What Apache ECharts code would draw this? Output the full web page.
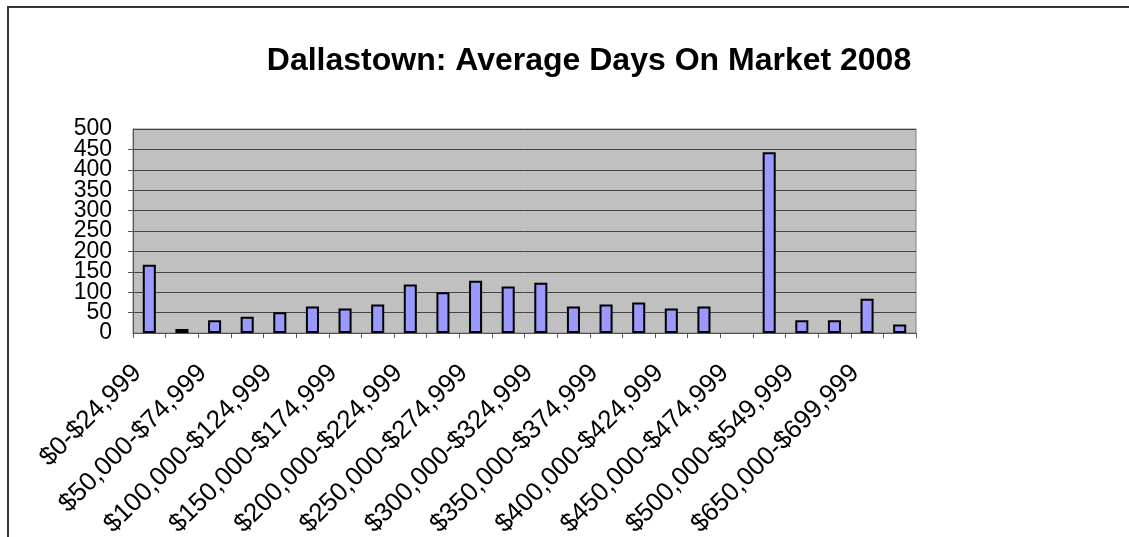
<!DOCTYPE html>
<html>
<head>
<meta charset="utf-8">
<script src="https://cdn.jsdelivr.net/npm/echarts@6/dist/echarts.min.js"></script>
<style>
  html, body { margin: 0; padding: 0; background: #fff; }
  #chart { width: 1129px; height: 537px; }
</style>
</head>
<body>
<div id="chart"></div>
<script>
// price bands (x axis)
var categories = [
  "$0-$24,999", "$25,000-$49,999", "$50,000-$74,999", "$75,000-$99,999",
  "$100,000-$124,999", "$125,000-$149,999", "$150,000-$174,999", "$175,000-$199,999",
  "$200,000-$224,999", "$225,000-$249,999", "$250,000-$274,999", "$275,000-$299,999",
  "$300,000-$324,999", "$325,000-$349,999", "$350,000-$374,999", "$375,000-$399,999",
  "$400,000-$424,999", "$425,000-$449,999", "$450,000-$474,999", "$475,000-$499,999",
  "$500,000-$549,999", "$600,000-$649,999", "$650,000-$699,999", "$700,000-$749,999"
];
// average days on market
var avgDays = [
  167, 10, 31, 40, 51, 65, 60, 70,
  119, 100, 128, 114, 123, 65, 70, 75,
  60, 65, null, 443, 31, 31, 84, 21
];
// y range
var yMin = 0;
var yMax = 500;
var yStep = 50;

var myChart = echarts.init(document.getElementById("chart"));
var font = "'Liberation Sans', Arial, sans-serif";

var yLabelStyle = {
  margin: 21,
  fontFamily: font,
  fontSize: 23,
  color: "#000"
};

var option = {
  animation: false,
  title: {
    text: "Dallastown: Average Days On Market 2008",
    left: 584,
    top: 40,
    textAlign: "center",
    textStyle: {
      fontFamily: font,
      fontWeight: "bold",
      fontSize: 32,
      color: "#000"
    }
  },
  // outer chart frame
  graphic: [
    {
      type: "rect",
      shape: { x: 8, y: 7, width: 1200, height: 600 },
      style: { fill: null, stroke: "#333", lineWidth: 2 },
      silent: true
    }
  ],
  grid: {
    left: 133,
    top: 129,
    right: 213,
    bottom: 204,
    outerBoundsMode: "none",
    show: true,
    backgroundColor: "#c0c0c0",
    borderColor: "#808080",
    borderWidth: 1
  },
  xAxis: {
    type: "category",
    data: categories,
    axisLine: { lineStyle: { color: "#555", width: 1 } },
    axisTick: { show: true, length: 5, interval: 0, lineStyle: { color: "#555" } },
    axisLabel: {
      interval: 1,
      rotate: 45,
      margin: 24,
      padding: [0, 17, 0, 0],
      fontFamily: font,
      fontSize: 26,
      color: "#000"
    }
  },
  yAxis: [
    {
      // main axis: ticks, grid lines and the inner labels
      type: "value",
      position: "left",
      min: yMin,
      max: yMax,
      interval: yStep,
      axisLine: { show: true, lineStyle: { color: "#555" } },
      axisTick: { show: true, length: 5, lineStyle: { color: "#555" } },
      splitLine: { lineStyle: { color: "#444", width: 1 } },
      axisLabel: Object.assign({ showMinLabel: false, showMaxLabel: false }, yLabelStyle)
    },
    {
      // same scale, only carries the 0 and 500 labels
      type: "value",
      position: "left",
      offset: 0,
      min: yMin,
      max: yMax,
      interval: yMax - yMin,
      axisLine: { show: false },
      axisTick: { show: false },
      splitLine: { show: false },
      axisLabel: Object.assign({ showMinLabel: true, showMaxLabel: true }, yLabelStyle)
    }
  ],
  series: [
    {
      name: "Average Days On Market",
      type: "bar",
      data: avgDays,
      barWidth: "40%",
      itemStyle: {
        color: "#9999ff",
        borderColor: "#000",
        borderWidth: 2
      }
    }
  ]
};

myChart.setOption(option);
window.addEventListener("resize", function () {
  myChart.resize();
});
</script>
</body>
</html>
